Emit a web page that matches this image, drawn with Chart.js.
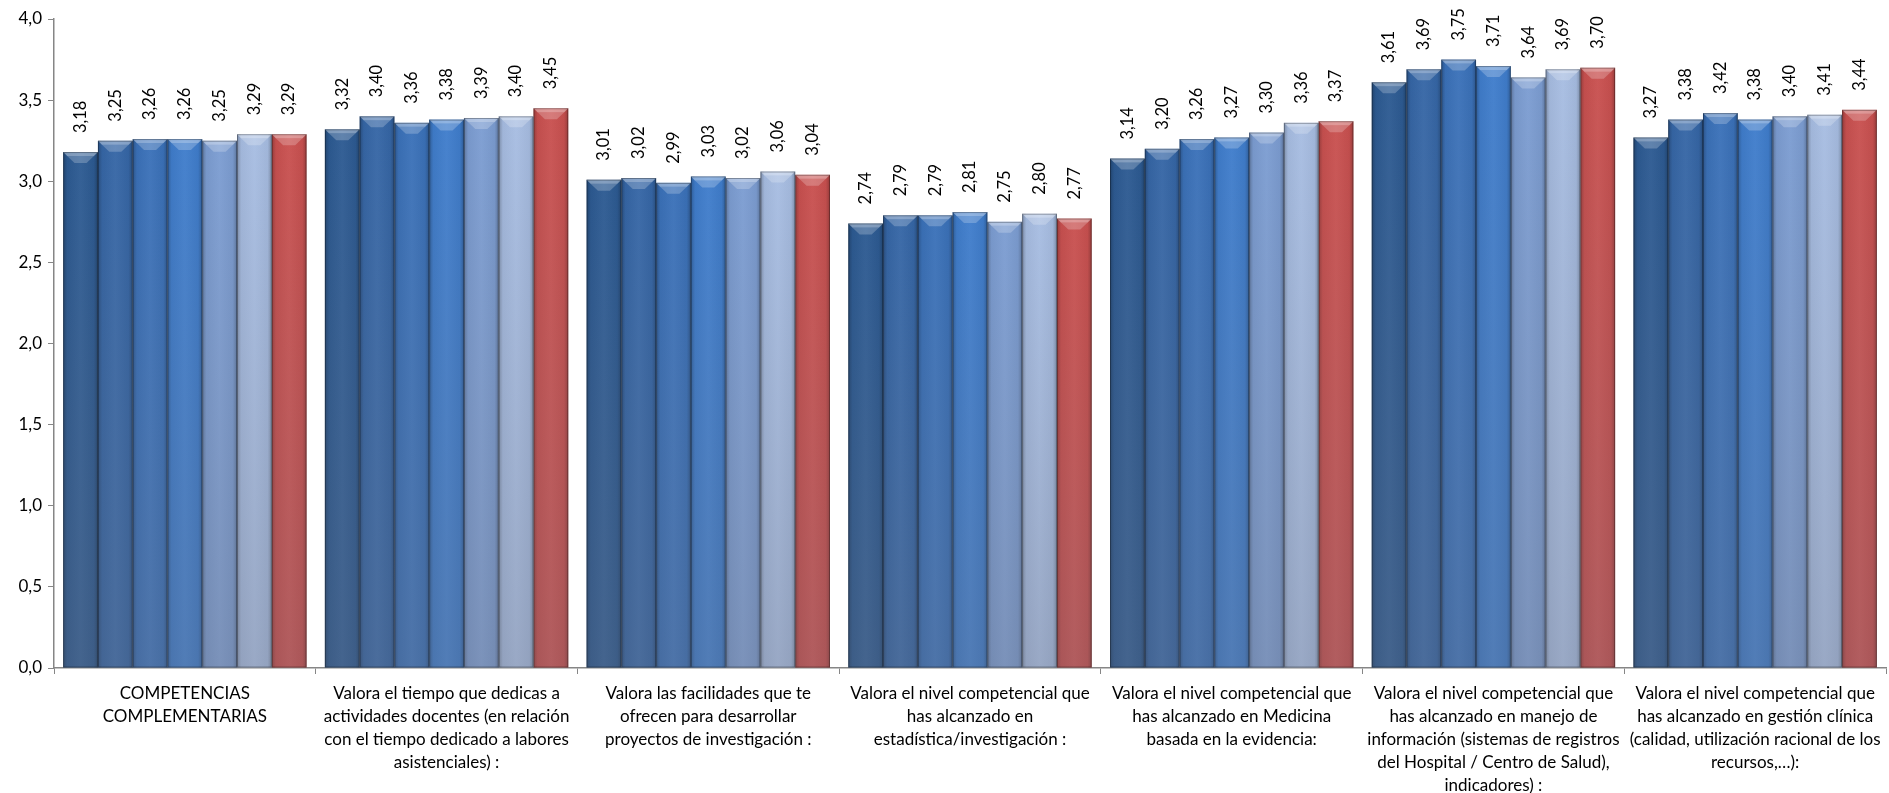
<!DOCTYPE html>
<html>
<head>
<meta charset="utf-8">
<script src="https://cdn.jsdelivr.net/npm/chart.js@4.4.1/dist/chart.umd.min.js"></script>
<style>
  html, body { margin: 0; padding: 0; background: #fff; }
  #wrap { width: 1889px; height: 793px; }
</style>
</head>
<body>
<div id="wrap"><canvas id="chart"></canvas></div>
<script>
// categories (multi-line, as in the original)
const categories = [
  ["COMPETENCIAS", "COMPLEMENTARIAS"],
  ["Valora el tiempo que dedicas a", "actividades docentes (en relación", "con el tiempo dedicado a labores", "asistenciales) :"],
  ["Valora las facilidades que te", "ofrecen para desarrollar", "proyectos de investigación :"],
  ["Valora el nivel competencial que", "has alcanzado en", "estadística/investigación :"],
  ["Valora el nivel competencial que", "has alcanzado en Medicina", "basada en la evidencia:"],
  ["Valora el nivel competencial que", "has alcanzado en manejo de", "información (sistemas de registros", "del Hospital / Centro de Salud),", "indicadores) :"],
  ["Valora el nivel competencial que", "has alcanzado en gestión clínica", "(calidad, utilización racional de los", "recursos,…):"]
];

// series values
const serie1 = [3.18, 3.32, 3.01, 2.74, 3.14, 3.61, 3.27];
const serie2 = [3.25, 3.40, 3.02, 2.79, 3.20, 3.69, 3.38];
const serie3 = [3.26, 3.36, 2.99, 2.79, 3.26, 3.75, 3.42];
const serie4 = [3.26, 3.38, 3.03, 2.81, 3.27, 3.71, 3.38];
const serie5 = [3.25, 3.39, 3.02, 2.75, 3.30, 3.64, 3.40];
const serie6 = [3.29, 3.40, 3.06, 2.80, 3.36, 3.69, 3.41];
const serie7 = [3.29, 3.45, 3.04, 2.77, 3.37, 3.70, 3.44];

const colors = ["#2c5a92", "#3566a6", "#3a71b9", "#3f7dcc", "#7c9dd2", "#a7bde2", "#c9504f"];

const FONT = "Lato, 'Open Sans', sans-serif";

function fmt(v) {
  return v.toFixed(2).replace(".", ",");
}

// shading: darker edges, grayer bottom, bevelled top
const bevelPlugin = {
  id: "bevel",
  afterDatasetsDraw(chart) {
    const ctx = chart.ctx;
    chart.data.datasets.forEach((ds, i) => {
      chart.getDatasetMeta(i).data.forEach((bar) => {
        const l = bar.x - bar.width / 2;
        const r = bar.x + bar.width / 2;
        const t = bar.y;
        const b = bar.base;
        ctx.save();
        let g = ctx.createLinearGradient(l, 0, r, 0);
        g.addColorStop(0, "rgba(0,0,0,0.25)");
        g.addColorStop(0.12, "rgba(0,0,0,0.04)");
        g.addColorStop(0.5, "rgba(255,255,255,0.04)");
        g.addColorStop(0.88, "rgba(0,0,0,0.04)");
        g.addColorStop(1, "rgba(0,0,0,0.25)");
        ctx.fillStyle = g;
        ctx.fillRect(l, t, r - l, b - t);
        let v = ctx.createLinearGradient(0, t, 0, b);
        v.addColorStop(0, "rgba(120,120,130,0)");
        v.addColorStop(1, "rgba(110,110,120,0.28)");
        ctx.fillStyle = v;
        ctx.fillRect(l, t, r - l, b - t);
        // top bevel
        ctx.fillStyle = "rgba(255,255,255,0.4)";
        ctx.beginPath();
        ctx.moveTo(l, t);
        ctx.lineTo(r, t);
        ctx.lineTo(r - 4, t + 4);
        ctx.lineTo(l + 4, t + 4);
        ctx.closePath();
        ctx.fill();
        ctx.fillStyle = "rgba(255,255,255,0.22)";
        ctx.beginPath();
        ctx.moveTo(l + 4, t + 4);
        ctx.lineTo(r - 4, t + 4);
        ctx.lineTo(bar.x + 6, t + 11);
        ctx.lineTo(bar.x - 6, t + 11);
        ctx.closePath();
        ctx.fill();
        ctx.strokeStyle = "rgba(0,0,0,0.3)";
        ctx.lineWidth = 1;
        ctx.strokeRect(l + 0.5, t + 0.5, r - l - 1, b - t - 1);
        ctx.restore();
      });
    });
  }
};

// rotated value labels above the bars
const valueLabels = {
  id: "valueLabels",
  afterDraw(chart) {
    const ctx = chart.ctx;
    ctx.save();
    ctx.font = "16.5px " + FONT;
    ctx.fillStyle = "#000";
    ctx.textAlign = "left";
    ctx.textBaseline = "middle";
    chart.data.datasets.forEach((ds, i) => {
      chart.getDatasetMeta(i).data.forEach((bar, j) => {
        ctx.save();
        ctx.translate(bar.x, bar.y - 19);
        ctx.rotate(-Math.PI / 2);
        ctx.fillText(fmt(ds.data[j]), 0, 0);
        ctx.restore();
      });
    });
    ctx.restore();
  }
};

const allSeries = [serie1, serie2, serie3, serie4, serie5, serie6, serie7];

new Chart(document.getElementById("chart"), {
  type: "bar",
  data: {
    labels: categories,
    datasets: allSeries.map((d, i) => ({
      label: "Serie " + (i + 1),
      data: d,
      backgroundColor: colors[i],
      borderWidth: 0,
      barPercentage: 1.0,
      categoryPercentage: 0.93
    }))
  },
  options: {
    responsive: true,
    maintainAspectRatio: false,
    animation: false,
    layout: { padding: { top: 19, right: 3, left: 0, bottom: 0 } },
    plugins: {
      legend: { display: false },
      tooltip: { enabled: false }
    },
    scales: {
      x: {
        afterFit(scale) { scale.height = 125; },
        grid: { display: true, drawOnChartArea: false, color: "#868686", tickLength: 6, offset: true },
        border: { color: "#868686", width: 1.5 },
        ticks: {
          color: "#000",
          font: { family: FONT, size: 17, lineHeight: 1.35 },
          maxRotation: 0,
          autoSkip: false,
          padding: 8
        }
      },
      y: {
        min: 0,
        max: 4,
        afterFit(scale) { scale.width = 54; },
        grid: { display: true, drawOnChartArea: false, color: "#868686", tickLength: 6 },
        border: { color: "#868686", width: 1.5 },
        ticks: {
          stepSize: 0.5,
          color: "#000",
          font: { family: FONT, size: 17 },
          padding: 6,
          callback: (v) => v.toFixed(1).replace(".", ",")
        }
      }
    }
  },
  plugins: [bevelPlugin, valueLabels]
});
</script>
</body>
</html>
